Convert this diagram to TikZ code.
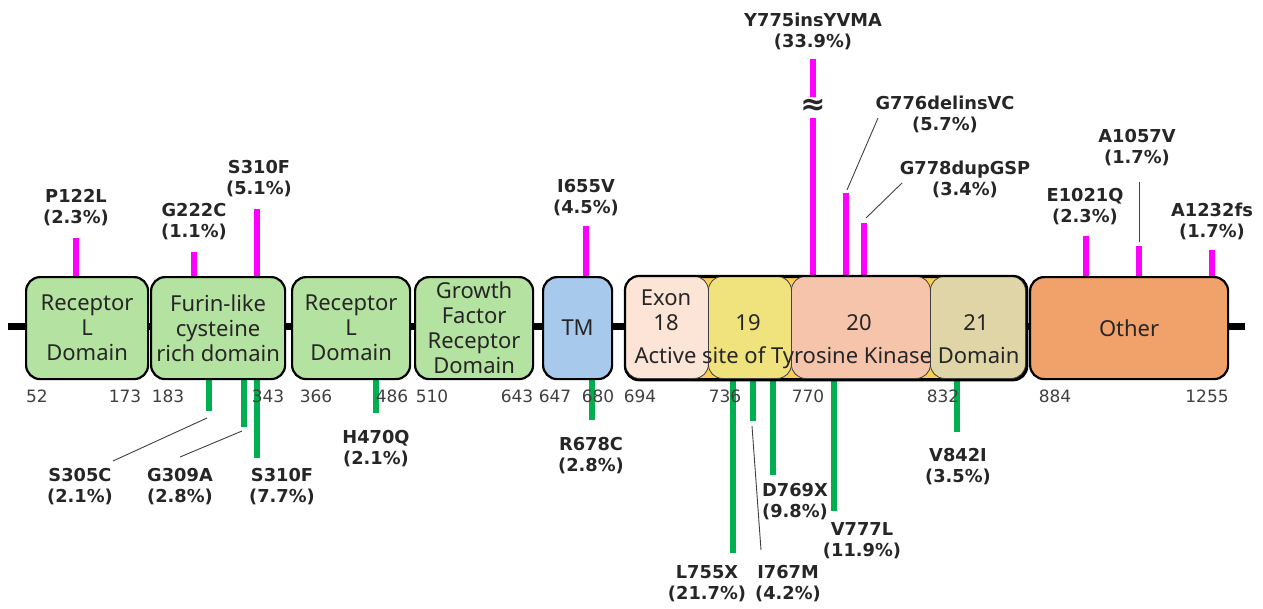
\documentclass[tikz,border=0pt]{standalone}
\usepackage{fontspec}
\setmainfont{Noto Sans}
\newfontfamily\dvfont{DejaVu Sans}
\definecolor{txt}{RGB}{38,38,38}
\definecolor{numc}{RGB}{64,64,64}
\definecolor{grnbox}{RGB}{180,226,160}
\definecolor{tmbox}{RGB}{166,201,236}
\definecolor{exa}{RGB}{252,228,214}
\definecolor{exb}{RGB}{240,226,124}
\definecolor{exc}{RGB}{245,196,170}
\definecolor{exd}{RGB}{223,213,166}
\definecolor{gold}{RGB}{250,206,84}
\definecolor{othc}{RGB}{241,161,106}
\definecolor{mag}{RGB}{255,0,255}
\definecolor{gbar}{RGB}{0,176,80}
\definecolor{lead}{RGB}{64,64,64}
\begin{document}
\begin{tikzpicture}[x=1pt,y=-1pt,
  dom/.style={draw=black, line width=2.2pt, rounded corners=14pt, anchor=north west,
    inner sep=0pt, align=center, text=txt, minimum height=102pt,
    font=\fontsize{22}{25}\selectfont},
  exbox/.style={draw=lead, line width=0.8pt, rounded corners=14pt, anchor=north west,
    inner sep=0pt, minimum height=102pt},
  dtext/.style={inner sep=0pt, align=center, text=txt, font=\fontsize{22}{25}\selectfont},
  lab/.style={inner sep=0pt, align=center, text=txt, font=\dvfont\bfseries\fontsize{17.8}{21}\selectfont},
  num/.style={inner sep=0pt, text=numc, font=\dvfont\fontsize{17}{20}\selectfont},
  magbar/.style={draw=mag, line width=5.5pt},
  grnbar/.style={draw=gbar, line width=5.5pt},
  leader/.style={draw=lead, line width=0.9pt}
]
\useasboundingbox (0,0) rectangle (1263,608);

% backbone
\coordinate (bbL) at (8,326);
\coordinate (bbR) at (1245,326);
\draw[line width=7pt] (bbL) -- (bbR);

% ---------- magenta bars (above) ----------
\coordinate (m1b) at (76,277);   \coordinate (m1t) at (76,238);
\coordinate (m2b) at (194,277);  \coordinate (m2t) at (194,252);
\coordinate (m3b) at (257,277);  \coordinate (m3t) at (257,209);
\coordinate (m4b) at (586,277);  \coordinate (m4t) at (586,226);
\coordinate (m5b) at (813,277);  \coordinate (m5m) at (813,118);
\coordinate (m5n) at (813,97);   \coordinate (m5t) at (813,59);
\coordinate (m6b) at (846,277);  \coordinate (m6t) at (846,193);
\coordinate (m7b) at (864,277);  \coordinate (m7t) at (864,223);
\coordinate (m8b) at (1086,277); \coordinate (m8t) at (1086,236);
\coordinate (m9b) at (1139,277); \coordinate (m9t) at (1139,246);
\coordinate (m10b) at (1212,277); \coordinate (m10t) at (1212,250);
\foreach \a/\b in {m1b/m1t,m2b/m2t,m3b/m3t,m4b/m4t,m5b/m5m,m5n/m5t,m6b/m6t,m7b/m7t,m8b/m8t,m9b/m9t,m10b/m10t}
  \draw[magbar] (\a) -- (\b);

% ---------- green bars (below) ----------
\coordinate (g1t) at (209,377); \coordinate (g1b) at (209,411);
\coordinate (g2t) at (244,377); \coordinate (g2b) at (244,427);
\coordinate (g3t) at (257,377); \coordinate (g3b) at (257,458);
\coordinate (g4t) at (376,377); \coordinate (g4b) at (376,413);
\coordinate (g5t) at (592,377); \coordinate (g5b) at (592,420);
\coordinate (g6t) at (733,377); \coordinate (g6b) at (733,553);
\coordinate (g7t) at (753,377); \coordinate (g7b) at (753,421);
\coordinate (g8t) at (773,377); \coordinate (g8b) at (773,475);
\coordinate (g9t) at (834,377); \coordinate (g9b) at (834,511);
\coordinate (g10t) at (957,377); \coordinate (g10b) at (957,432);
\foreach \a/\b in {g1t/g1b,g2t/g2b,g3t/g3b,g4t/g4b,g5t/g5b,g6t/g6b,g7t/g7b,g8t/g8b,g9t/g9b,g10t/g10b}
  \draw[grnbar] (\a) -- (\b);

% ---------- domain boxes ----------
\node[dom, fill=grnbox, minimum width=122pt] (d1) at (25,276) {Receptor\\L\\Domain};
\node[dom, fill=grnbox, minimum width=134pt] (d2) at (150,276) {Furin-like\\cysteine\\rich domain};
\node[dom, fill=grnbox, minimum width=118pt] (d3) at (291,276) {Receptor\\L\\Domain};
\node[dom, fill=grnbox, minimum width=118pt] (d4) at (414,276) {Growth\\Factor\\Receptor\\Domain};
\node[dom, fill=tmbox, minimum width=69pt] (tm) at (542,276) {TM};

% kinase domain group
\node[dom, fill=gold, minimum width=400pt] (kin) at (625,276) {};
\node[exbox, fill=exa, minimum width=83pt] (e18) at (625,276) {};
\node[exbox, fill=exb, minimum width=83pt] (e19) at (708,276) {};
\node[exbox, fill=exc, minimum width=139pt] (e20) at (791,276) {};
\node[exbox, fill=exd, minimum width=95pt] (e21) at (930,276) {};
\draw[line width=2.2pt, rounded corners=14pt] (kin.north west) rectangle (kin.south east);
\node[dtext] (t18) at (666,310.5) {Exon\\18};
\node[dtext] (t19) at (748,323) {19};
\node[dtext] (t20) at (859,323) {20};
\node[dtext] (t21) at (976,323) {21};
\node[dtext] (tact) at (827,358) {Active site of Tyrosine Kinase Domain};

\node[dom, fill=othc, minimum width=198pt] (oth) at (1029,276) {Other};

% ---------- position numbers ----------
\foreach \n/\x in {52/37,173/125,183/168,343/268,366/316,486/392,510/432,643/517,647/555,680/598,694/640,736/725,770/808,832/943,884/1055,1255/1207}
  \node[num] (n\n) at (\x,396) {\n};

% ---------- labels above ----------
\node[lab] (l1) at (76,207.5) {P122L\\(2.3\%)};
\node[lab] (l2) at (194,222) {G222C\\(1.1\%)};
\node[lab] (l3) at (259,179) {S310F\\(5.1\%)};
\node[lab] (l4) at (586,198) {I655V\\(4.5\%)};
\node[lab] (l5) at (813,31) {Y775insYVMA\\(33.9\%)};
\node[lab, font=\dvfont\bfseries\fontsize{30}{30}\selectfont] (brk) at (813,107) {≈};
\node[lab] (l6) at (945,114) {G776delinsVC\\(5.7\%)};
\node[lab] (l7) at (965,179) {G778dupGSP\\(3.4\%)};
\node[lab] (l8) at (1085,207) {E1021Q\\(2.3\%)};
\node[lab] (l9) at (1137,148) {A1057V\\(1.7\%)};
\node[lab] (l10) at (1212,221) {A1232fs\\(1.7\%)};

\coordinate (c6a) at (878,118); \coordinate (c6b) at (847,190);
\coordinate (c7a) at (902,183); \coordinate (c7b) at (866,218);
\coordinate (c9a) at (1139,182); \coordinate (c9b) at (1139,242);
\draw[leader] (c6a) -- (c6b);
\draw[leader] (c7a) -- (c7b);
\draw[leader] (c9a) -- (c9b);

% ---------- labels below ----------
\node[lab] (k1) at (80,487) {S305C\\(2.1\%)};
\node[lab] (k2) at (180,487) {G309A\\(2.8\%)};
\node[lab] (k3) at (282,487) {S310F\\(7.7\%)};
\node[lab] (k4) at (376,449) {H470Q\\(2.1\%)};
\node[lab] (k5) at (591,456) {R678C\\(2.8\%)};
\node[lab] (k6) at (707,584) {L755X\\(21.7\%)};
\node[lab] (k7) at (788,584) {I767M\\(4.2\%)};
\node[lab] (k8) at (795,502) {D769X\\(9.8\%)};
\node[lab] (k9) at (862,541) {V777L\\(11.9\%)};
\node[lab] (k10) at (958,467) {V842I\\(3.5\%)};

\coordinate (q1a) at (207,418); \coordinate (q1b) at (113,461);
\coordinate (q2a) at (242,431); \coordinate (q2b) at (180,457);
\coordinate (q7a) at (752,426); \coordinate (q7b) at (761,550);
\draw[leader] (q1a) -- (q1b);
\draw[leader] (q2a) -- (q2b);
\draw[leader] (q7a) -- (q7b);
\end{tikzpicture}
\end{document}
